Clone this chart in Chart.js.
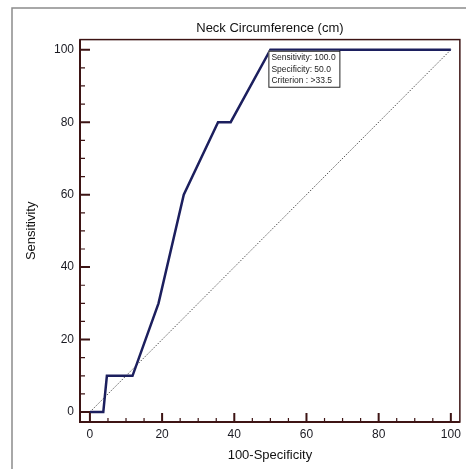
<!DOCTYPE html>
<html>
<head>
<meta charset="utf-8">
<script src="https://cdn.jsdelivr.net/npm/chart.js@4"></script>
<style>
  body { margin: 0; background: #fff; }
  #wrap { width: 466px; height: 469px; }
</style>
</head>
<body>
<div id="wrap"><canvas id="roc"></canvas></div>
<script>
// ROC curve
const specX = [0, 3.7, 4.7, 11.8, 19, 26, 35.5, 39, 50, 100];
const sensY = [0, 0, 10, 10, 30, 60, 80, 80, 100, 100];
const refX = [0, 100];
const refY = [0, 100];
const xTicks = [0, 20, 40, 60, 80, 100];
const yTicks = [0, 20, 40, 60, 80, 100];
const noteLines = ['Sensitivity: 100.0', 'Specificity: 50.0', 'Criterion : >33.5'];
const notePoint = [50, 100];

const font = "'Liberation Sans', Arial, sans-serif";
const axisCol = '#3d1414';

const extras = {
  id: 'extras',
  beforeDraw(chart) {
    const c = chart.ctx;
    c.save();
    c.fillStyle = '#fff';
    c.fillRect(0, 0, chart.width, chart.height);
    c.strokeStyle = '#8c8c8c';
    c.lineWidth = 1.5;
    c.beginPath();
    c.moveTo(12, chart.height);
    c.lineTo(12, 8);
    c.lineTo(chart.width, 8);
    c.stroke();
    c.restore();
  },
  afterDatasetsDraw(chart) {
    const c = chart.ctx;
    const a = chart.chartArea;
    const xs = chart.scales.x, ys = chart.scales.y;
    c.save();
    // frame
    c.strokeStyle = axisCol;
    c.lineWidth = 1.5;
    c.strokeRect(a.left, a.top, a.right - a.left, a.bottom - a.top);
    c.lineWidth = 2;
    c.beginPath();
    c.moveTo(a.left, a.top); c.lineTo(a.left, a.bottom); c.lineTo(a.right, a.bottom);
    c.stroke();
    // inward ticks, minor every 5
    for (let v = 0; v <= 100; v += 5) {
      const major = v % 20 === 0;
      c.lineWidth = major ? 2 : 1.2;
      const px = xs.getPixelForValue(v);
      const py = ys.getPixelForValue(v);
      c.beginPath();
      c.moveTo(px, a.bottom); c.lineTo(px, a.bottom - (major ? 9 : 4));
      c.moveTo(a.left, py); c.lineTo(a.left + (major ? 10 : 5), py);
      c.stroke();
    }
    // criterion box
    const bx = xs.getPixelForValue(notePoint[0]) - 2;
    const by = ys.getPixelForValue(notePoint[1]) + 1;
    c.fillStyle = '#fff';
    c.fillRect(bx, by, 71, 36);
    c.strokeStyle = '#222';
    c.lineWidth = 1;
    c.strokeRect(bx + 0.5, by + 0.5, 71, 36);
    c.fillStyle = '#222';
    c.font = '8.5px ' + font;
    c.textBaseline = 'middle';
    noteLines.forEach((t, i) => c.fillText(t, bx + 3, by + 7 + i * 11.5));
    c.restore();
  }
};

new Chart(document.getElementById('roc'), {
  type: 'scatter',
  data: {
    datasets: [{
      data: specX.map((x, i) => ({x: x, y: sensY[i]})),
      showLine: true,
      borderColor: '#1c1f5e',
      borderWidth: 2.5,
      pointRadius: 0,
      tension: 0
    }, {
      data: refX.map((x, i) => ({x: x, y: refY[i]})),
      showLine: true,
      borderColor: '#555',
      borderWidth: 1,
      borderDash: [1.5, 1.5],
      pointRadius: 0
    }]
  },
  options: {
    responsive: true,
    maintainAspectRatio: false,
    animation: false,
    layout: {padding: {left: 0, right: 6, top: 0, bottom: 0}},
    plugins: {
      legend: {display: false},
      tooltip: {enabled: false},
      title: {
        display: true,
        fullSize: false,
        text: 'Neck Circumference (cm)',
        color: '#111',
        font: {family: font, size: 13, weight: 'normal'},
        padding: {top: 21, bottom: 3}
      }
    },
    scales: {
      x: {
        type: 'linear',
        min: -2.75, max: 102.5,
        afterBuildTicks: s => { s.ticks = xTicks.map(v => ({value: v})); },
        afterFit: s => { s.height = 47; },
        grid: {display: false, drawTicks: false},
        border: {display: false},
        ticks: {color: '#1a1a22', padding: 5, font: {family: font, size: 12}},
        title: {display: true, text: '100-Specificity', color: '#111',
          font: {family: font, size: 13}, padding: {top: 0, bottom: 6}}
      },
      y: {
        type: 'linear',
        min: -2.75, max: 102.8,
        afterBuildTicks: s => { s.ticks = yTicks.map(v => ({value: v})); },
        afterFit: s => { s.width = 80; },
        grid: {display: false, drawTicks: false},
        border: {display: false},
        ticks: {color: '#1a1a22', padding: 6, font: {family: font, size: 12}},
        title: {display: true, text: 'Sensitivity', color: '#111',
          font: {family: font, size: 13}, padding: {top: 24, bottom: 0}}
      }
    }
  },
  plugins: [extras]
});
</script>
</body>
</html>
